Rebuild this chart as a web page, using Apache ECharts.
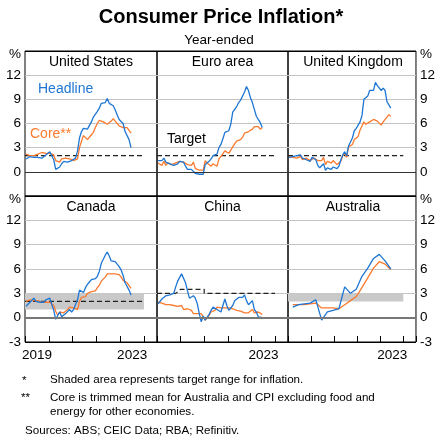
<!DOCTYPE html>
<html>
<head>
<meta charset="utf-8">
<script src="https://cdn.jsdelivr.net/npm/echarts@6/dist/echarts.min.js"></script>
<style>
  html, body { margin: 0; padding: 0; background: #fff; }
  #chart { width: 438px; height: 438px; }
</style>
</head>
<body>
<div id="chart"></div>
<script>
// monthly dates Jan 2019 - Jun 2023
var months = [];
for (var y = 2019; y <= 2023; y++) {
    for (var m = 1; m <= 12; m++) {
        if (y == 2023 && m > 6) break;
        months.push(y + '-' + (m < 10 ? '0' + m : m));
    }
}
// quarterly dates for Australia
var quarters = ['2019-03','2019-06','2019-09','2019-12','2020-03','2020-06','2020-09','2020-12',
    '2021-03','2021-06','2021-09','2021-12','2022-03','2022-06','2022-09','2022-12','2023-03','2023-06'];

var usHeadline = [1.6,1.5,1.9,2.0,1.8,1.6,1.8,1.7,1.7,1.8,2.1,2.3,
    2.5,2.3,1.5,0.3,0.1,0.6,1.0,1.3,1.4,1.2,1.2,1.4,
    1.4,1.7,2.6,4.2,5.0,5.4,5.4,5.3,5.4,6.2,6.8,7.0,
    7.5,7.9,8.5,8.3,8.6,9.1,8.5,8.3,8.2,7.7,7.1,6.5,
    6.4,6.0,5.0,4.9,4.0,3.0];
var usCore = [2.2,2.1,2.0,2.1,2.0,2.1,2.2,2.4,2.4,2.3,2.3,2.3,
    2.3,2.4,2.1,1.4,1.2,1.2,1.6,1.7,1.7,1.6,1.6,1.6,
    1.4,1.3,1.6,3.0,3.8,4.5,4.3,4.0,4.0,4.6,4.9,5.5,
    6.0,6.4,6.5,6.2,6.0,5.9,5.9,6.3,6.6,6.3,6.0,5.7,
    5.6,5.5,5.6,5.5,5.3,4.8];
var euHeadline = [1.4,1.5,1.4,1.7,1.2,1.3,1.0,1.0,0.8,0.7,1.0,1.3,
    1.4,1.2,0.7,0.3,0.1,0.3,0.4,-0.2,-0.3,-0.3,-0.3,-0.3,
    0.9,0.9,1.3,1.6,2.0,1.9,2.2,3.0,3.4,4.1,4.9,5.0,
    5.1,5.9,7.4,7.4,8.1,8.6,8.9,9.1,9.9,10.6,10.1,9.2,
    8.6,8.5,6.9,7.0,6.1,5.5];
var euCore = [1.1,1.0,0.8,1.3,0.8,1.1,0.9,0.9,1.0,1.1,1.3,1.3,
    1.1,1.2,1.0,0.9,0.9,0.8,1.2,0.4,0.2,0.2,0.2,0.2,
    1.4,1.1,0.9,0.7,1.0,0.9,0.7,1.6,1.9,2.0,2.6,2.6,
    2.3,2.7,2.9,3.5,3.8,3.7,4.0,4.3,4.8,5.0,5.0,5.2,
    5.3,5.6,5.7,5.6,5.3,5.5];
var ukHeadline = [1.8,1.9,1.9,2.1,2.0,2.0,2.1,1.7,1.7,1.5,1.5,1.3,
    1.8,1.7,1.5,0.8,0.5,0.6,1.0,0.2,0.5,0.7,0.3,0.6,
    0.7,0.4,0.7,1.5,2.1,2.5,2.0,3.2,3.1,4.2,5.1,5.4,
    5.5,6.2,7.0,9.0,9.1,9.4,10.1,9.9,10.1,11.1,10.7,10.5,
    10.1,10.4,10.1,8.7,8.7,7.9];
var ukCore = [1.9,1.8,1.8,1.8,1.7,1.8,1.9,1.5,1.7,1.7,1.7,1.4,
    1.6,1.7,1.6,1.4,1.2,1.4,1.8,0.9,1.3,1.5,1.1,1.4,
    1.4,0.9,1.1,1.3,2.0,2.3,1.8,3.1,2.9,3.4,4.0,4.2,
    4.4,5.2,5.7,6.2,5.9,5.8,6.2,6.3,6.5,6.5,6.3,6.3,
    5.8,6.2,6.2,6.8,7.1,6.9];
var caHeadline = [1.4,1.5,1.9,2.0,2.4,2.0,2.0,1.9,1.9,1.9,2.2,2.2,
    2.4,2.2,0.9,-0.2,-0.4,0.7,0.1,0.1,0.5,0.7,1.0,0.7,
    1.0,1.1,2.2,3.4,3.6,3.1,3.7,4.1,4.4,4.7,4.7,4.8,
    5.1,5.7,6.7,6.8,7.7,8.1,7.6,7.0,6.9,6.9,6.8,6.3,
    5.9,5.2,4.3,4.4,3.4,2.8];
var caCore = [2.0,2.1,2.2,2.1,2.1,2.0,2.1,2.0,1.9,1.9,1.9,1.9,
    1.9,1.8,1.5,0.8,0.3,0.7,0.6,0.6,0.8,1.0,1.3,1.1,
    1.2,1.0,1.0,2.0,2.5,2.4,2.6,3.0,3.0,3.2,3.1,3.3,
    3.7,4.0,4.5,4.7,5.0,5.4,5.3,5.4,5.4,5.4,5.3,5.3,
    5.0,4.6,4.4,4.3,4.2,3.6];
var cnHeadline = [1.7,1.5,2.3,2.5,2.7,2.7,2.8,2.8,3.0,3.8,4.5,4.5,
    5.4,5.2,4.3,3.3,2.4,2.5,2.7,2.4,1.7,0.5,-0.5,0.2,
    -0.3,-0.2,0.4,0.9,1.3,1.1,1.0,0.8,0.7,1.5,2.3,1.5,
    0.9,0.9,1.5,2.1,2.1,2.5,2.7,2.5,2.8,2.1,1.6,1.8,
    2.1,1.0,0.7,0.1,0.2,0.0];
var cnCore = [1.9,1.8,1.8,1.7,1.6,1.6,1.6,1.5,1.5,1.5,1.4,1.4,
    1.5,1.0,1.2,1.1,1.1,0.9,0.5,0.5,0.5,0.5,0.5,0.4,
    -0.3,0.0,0.3,0.7,0.9,0.9,1.3,1.2,1.2,1.3,1.2,1.2,
    1.2,1.1,1.1,0.9,0.9,1.0,0.8,0.8,0.6,0.6,0.6,0.7,
    1.0,0.6,0.7,0.7,0.6,0.4];
var auHeadline = [1.3,1.6,1.7,1.8,2.2,-0.3,0.7,0.9,1.1,3.8,3.0,3.5,5.1,6.1,7.3,7.8,7.0,6.0];
var auCore = [1.6,1.6,1.6,1.7,1.8,1.2,1.2,1.2,1.1,1.6,2.1,2.6,3.7,4.9,6.1,6.9,6.6,5.9];

// targets: [year, %]
var targetUS = [[2019, 2], [2024, 2]];
var targetEU = [[2019, 2], [2024, 2]];
var targetUK = [[2019, 2], [2024, 2]];
var targetCA = [[2019, 2], [2024, 2]];
var targetCN = [[2019, 3], [2019.8, 3], [2020, 3.5], [2021, 3.5], [2021, 3], [2024, 3]];
var bandCA = [2019, 2024, 1, 3];
var bandAU = [2019, 2024, 2, 3];

var names = ['United States', 'Euro area', 'United Kingdom', 'Canada', 'China', 'Australia'];

var blue = '#1f76d3';
var orange = '#fb7b2e';
var band = '#c9c9c9';

function yr(s) {
    var p = s.split('-');
    return +p[0] + (p[1] - 0.5) / 12;
}
function pairs(dates, vals) {
    return vals.map(function (v, i) { return [yr(dates[i]), v]; });
}

var panels = [
    {h: pairs(months, usHeadline), c: pairs(months, usCore), t: targetUS},
    {h: pairs(months, euHeadline), c: pairs(months, euCore), t: targetEU},
    {h: pairs(months, ukHeadline), c: pairs(months, ukCore), t: targetUK},
    {h: pairs(months, caHeadline), c: pairs(months, caCore), t: targetCA, b: bandCA},
    {h: pairs(months, cnHeadline), c: pairs(months, cnCore), t: targetCN},
    {h: pairs(quarters, auHeadline), c: pairs(quarters, auCore), b: bandAU}
];

var lefts = [25, 157, 288];
var widths = [132, 131, 130];
var tops = [51, 196];
var heights = [145, 146];

var grids = [], xAxes = [], yAxes = [], series = [];
panels.forEach(function (p, i) {
    var col = i % 3, row = Math.floor(i / 3);
    grids.push({
        left: lefts[col], top: tops[row], width: widths[col], height: heights[row],
        show: true, borderColor: '#000', borderWidth: 1, containLabel: false
    });
    xAxes.push({
        type: 'value', gridIndex: i, min: 2019, max: 2024.55, interval: 1,
        axisLine: {show: false, onZero: false},
        splitLine: {show: false},
        axisTick: {show: row == 1, inside: true, length: 6, lineStyle: {color: '#000'}},
        axisLabel: {
            show: row == 1, margin: 6, color: '#000', fontSize: 13.5,
            fontFamily: 'Liberation Sans, Arial, sans-serif',
            formatter: function (v) {
                if (v == 2023 || (v == 2019 && i == 3)) return '{a|' + v + '}';
                return '';
            },
            rich: {a: {padding: [0, 0, 0, 24], fontSize: 13.5, color: '#000'}}
        }
    });
    yAxes.push({
        type: 'value', gridIndex: i, min: -3, max: 15, interval: 3,
        position: col == 2 ? 'right' : 'left',
        axisLine: {show: false},
        axisTick: {show: false},
        splitLine: {show: true, lineStyle: {color: ['#000', '#000', '#c4c4c4', '#c4c4c4', '#c4c4c4', '#c4c4c4', '#000'], width: 1}},
        axisLabel: {
            show: col != 1, margin: 4, color: '#000', fontSize: 13.5,
            fontFamily: 'Liberation Sans, Arial, sans-serif',
            formatter: function (v) {
                if (v == 15) return '{p|%}';
                if (v == -3 && row == 0) return '';
                return v;
            },
            rich: {p: {padding: [6, 0, 0, 0], fontSize: 13.5, color: '#000'}}
        }
    });
    // zero line, bands and target
    var ref = {
        type: 'line', xAxisIndex: i, yAxisIndex: i, data: p.t || [],
        symbol: 'none', silent: true, z: 1,
        lineStyle: {color: '#222', width: 1.2, type: [5, 3]},
        markLine: {
            silent: true, symbol: 'none', label: {show: false},
            lineStyle: {color: row == 0 ? '#333' : '#777', width: row == 0 ? 1 : 2, type: 'solid'},
            data: [{yAxis: 0}]
        }
    };
    if (p.b) {
        ref.markArea = {
            silent: true, itemStyle: {color: band},
            data: [[{xAxis: p.b[0], yAxis: p.b[2]}, {xAxis: p.b[1], yAxis: p.b[3]}]]
        };
    }
    series.push(ref);
    series.push({
        type: 'line', xAxisIndex: i, yAxisIndex: i, data: p.c,
        symbol: 'none', z: 3, lineStyle: {color: orange, width: 1.3}
    });
    series.push({
        type: 'line', xAxisIndex: i, yAxisIndex: i, data: p.h,
        symbol: 'none', z: 4, lineStyle: {color: blue, width: 1.3}
    });
});

var font = 'Liberation Sans, Arial, sans-serif';
var graphics = [];
function txt(s, x, y, color, size, align, weight) {
    graphics.push({
        type: 'text', z: 10,
        style: {
            text: s, x: x, y: y, textAlign: align || 'left', textVerticalAlign: 'middle',
            font: (weight || 'normal') + ' ' + (size || 13) + 'px ' + font, fill: color || '#000'
        }
    });
}
names.forEach(function (n, i) {
    var col = i % 3, row = Math.floor(i / 3);
    txt(n, lefts[col] + widths[col] / 2, row == 0 ? 62 : 207, '#000', 14, 'center');
});
txt('Consumer Price Inflation*', 221, 17, '#000', 20, 'center', 'bold');
txt('Year-ended', 219, 40, '#000', 13.5, 'center');
txt('Headline', 38, 89, blue, 14);
txt('Core**', 30, 134, orange, 14);
txt('Target', 167, 139, '#000', 14);
txt('*', 22, 381, '#000', 11.6);
txt('Shaded area represents target range for inflation.', 50, 380, '#000', 11.6);
txt('**', 21, 398, '#000', 11.6);
txt('Core is trimmed mean for Australia and CPI excluding food and', 50, 398, '#000', 11.6);
txt('energy for other economies.', 50, 412, '#000', 11.6);
txt('Sources: ABS; CEIC Data; RBA; Refinitiv.', 25, 431, '#000', 11.6);

var chart = echarts.init(document.getElementById('chart'));
chart.setOption({
    animation: false,
    backgroundColor: '#fff',
    grid: grids,
    xAxis: xAxes,
    yAxis: yAxes,
    series: series,
    graphic: graphics
});
</script>
</body>
</html>
